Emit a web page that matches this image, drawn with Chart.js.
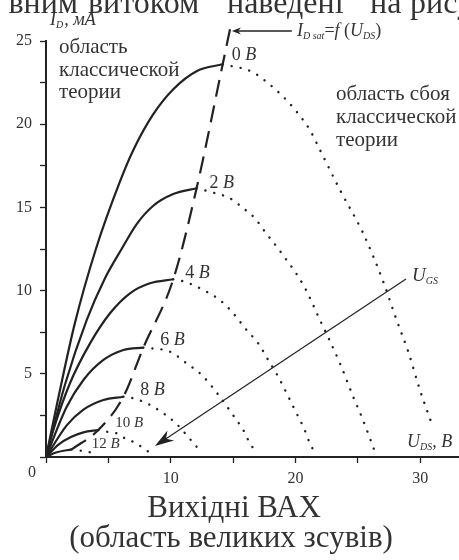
<!DOCTYPE html>
<html>
<head>
<meta charset="utf-8">
<script src="https://cdn.jsdelivr.net/npm/chart.js@4.4.1/dist/chart.umd.min.js"></script>
<style>
    html, body { margin: 0; padding: 0; background: #fff; }
    #wrap { width: 459px; height: 560px; }
</style>
</head>
<body>
<div id="wrap"><canvas id="ChartVax" width="459" height="560"></canvas></div>
<script>
// gate voltages of the family
var gateLabels = ['0', '2', '4', '6', '8', '10', '12'];

// solid part (classic theory), [U_DS, I_D]
var ohmic0 = [[0, 0], [1, 3.6], [2.3, 8.0], [4, 12.5], [5.9, 16.5], [7, 18.45], [8.6, 20.6], [10.2, 22.1], [12.1, 23.2], [14.16, 23.6]];
var ohmic2 = [[0, 0], [1.5, 4.3], [3.26, 8.23], [4.7, 10.7], [6.06, 12.5], [7.27, 14.0], [8.6, 15.1], [10.2, 15.8], [12.07, 16.15]];
var ohmic4 = [[0, 0], [0.6, 1.65], [1.92, 4.43], [3.53, 6.83], [5.13, 8.64], [6.73, 9.84], [8.33, 10.44], [10.2, 10.68]];
var ohmic6 = [[0, 0], [1.66, 3.02], [3.0, 4.63], [4.6, 5.83], [6.2, 6.43], [7.8, 6.57]];
var ohmic8 = [[0, 0], [1.66, 1.9], [3.0, 2.85], [4.6, 3.43], [6.2, 3.62]];
var ohmic10 = [[0, 0], [1.0, 0.75], [2.0, 1.2], [3.0, 1.48], [4.19, 1.62]];
var ohmic12 = [[0, 0], [0.8, 0.27], [2.06, 0.46]];

// dotted part (failure of classic theory)
var fall0 = [[14.16, 23.6], [16.48, 23.16], [17.81, 22.46], [19.01, 21.65], [20.09, 20.75], [21.15, 19.65], [21.96, 18.45], [23.56, 16.05], [25.42, 13.44], [27.03, 10.53], [28.1, 8.23], [29.03, 6.33], [29.97, 4.03], [30.9, 2.03]];
var fall2 = [[12.07, 16.15], [13.14, 15.94], [14.74, 15.55], [15.81, 14.95], [16.75, 14.34], [17.55, 13.54], [18.89, 12.24], [20.62, 10.34], [21.96, 8.23], [23.56, 5.63], [24.62, 3.62], [25.3, 2.42], [26.36, 0.32]];
var fall4 = [[10.2, 10.68], [11.14, 10.53], [12.6, 10.04], [13.94, 9.43], [15.0, 8.64], [16.08, 7.63], [17.01, 6.83], [17.81, 5.83], [18.61, 4.83], [19.29, 3.83], [19.95, 2.82], [20.62, 1.82], [21.15, 0.82], [21.55, 0.26]];
var fall6 = [[7.8, 6.57], [8.47, 6.53], [9.94, 6.33], [11.27, 5.63], [12.48, 4.93], [13.94, 3.62], [14.88, 2.63], [15.81, 1.62], [16.35, 0.82], [16.88, 0.26]];
var fall8 = [[6.2, 3.62], [6.59, 3.6], [8.07, 3.23], [9.4, 2.63], [10.47, 1.98], [11.54, 1.08], [12.48, 0.26]];
var fall10 = [[4.19, 1.62], [4.86, 1.52], [5.67, 1.42], [6.33, 1.12], [7.13, 0.86], [8.33, 0.26]];
var fall12 = [[2.06, 0.46], [2.46, 0.42], [3.26, 0.32], [4.06, 0.22]];

// I_D sat = f(U_DS)
var satCurve = [[2.06, 0.46], [4.19, 1.62], [6.2, 3.62], [7.8, 6.57], [10.2, 10.68], [12.07, 16.15], [14.16, 23.6], [14.8, 25.9]];

var xTickLabels = [10, 20, 30];
var yTickLabels = [5, 10, 15, 20, 25];

var serif = '"Liberation Serif", "Times New Roman", serif';
var ink = '#222';
var textInk = '#333';

function toPoints(arr) {
    return arr.map(function (p) { return { x: p[0], y: p[1] }; });
}

function each(arr, fn) {
    for (var i = 0; i < arr.length; i++) fn(i, arr[i]);
}

var ohmicList = [ohmic0, ohmic2, ohmic4, ohmic6, ohmic8, ohmic10, ohmic12];
var fallList = [fall0, fall2, fall4, fall6, fall8, fall10, fall12];

var mDataSets = [];
each(ohmicList, function (i, curve) {
    mDataSets.push({
        label: gateLabels[i] + ' B',
        data: toPoints(curve),
        showLine: true,
        borderColor: ink,
        borderWidth: 2.2,
        cubicInterpolationMode: 'monotone',
        pointRadius: 0,
        clip: false
    });
});
each(fallList, function (i, curve) {
    mDataSets.push({
        label: gateLabels[i] + ' B fall',
        data: toPoints(curve),
        showLine: true,
        borderColor: ink,
        borderWidth: 2.4,
        borderDash: [0.1, 9],
        borderCapStyle: 'round',
        cubicInterpolationMode: 'monotone',
        pointRadius: 0,
        clip: false
    });
});
mDataSets.push({
    label: 'sat',
    data: toPoints(satCurve),
    showLine: true,
    borderColor: ink,
    borderWidth: 2.2,
    borderDash: [17, 9],
    cubicInterpolationMode: 'monotone',
    pointRadius: 0,
    clip: false
});

// offsets of the "N B" labels from the saturation point, px
var labelOffsets = [[9, -4], [13, 0], [12, -1], [17, -3], [17, -2], [17, -3], [20, -1]];

function drawRich(c, parts, x, y) {
    for (var i = 0; i < parts.length; i++) {
        var p = parts[i];
        c.font = p[1] + ' ' + serif;
        c.fillText(p[0], x, y + (p[2] || 0));
        x += c.measureText(p[0]).width + (p[3] || 0);
    }
}

function drawArrow(c, x1, y1, x2, y2, len, w) {
    var a = Math.atan2(y2 - y1, x2 - x1);
    var ca = Math.cos(a), sa = Math.sin(a);
    c.beginPath();
    c.moveTo(x1, y1);
    c.lineTo(x2 - len * 0.7 * ca, y2 - len * 0.7 * sa);
    c.stroke();
    c.beginPath();
    c.moveTo(x2, y2);
    c.lineTo(x2 - len * ca + w * sa, y2 - len * sa - w * ca);
    c.lineTo(x2 - len * 0.7 * ca, y2 - len * 0.7 * sa);
    c.lineTo(x2 - len * ca - w * sa, y2 - len * sa + w * ca);
    c.closePath();
    c.fill();
}

var annotations = {
    id: 'annotations',
    afterDraw: function (chart) {
        var c = chart.ctx;
        var xs = chart.scales.x, ys = chart.scales.y;
        c.save();
        c.fillStyle = textInk;
        c.textAlign = 'left';
        c.textBaseline = 'alphabetic';

        // page text cut off above the figure
        c.font = '32px ' + serif;
        c.textAlign = 'right';
        c.fillText('вним', 78, 13);
        c.textAlign = 'left';
        c.fillText('витоком', 88, 13);
        c.fillText('наведені', 227, 13);
        c.fillText('на', 370, 13);
        c.fillText('рисунку', 410, 13);

        // axis titles
        drawRich(c, [['I', 'italic 18px'], ['D', 'italic 10px', 3, 1], [', мА', 'italic 18px']], 50, 25);
        drawRich(c, [['U', 'italic 18px'], ['DS', 'italic 10px', 3], [', ', 'italic 18px'], ['B', 'italic 18px']], 407, 447);

        // origin label
        c.font = '16px ' + serif;
        c.fillText('0', 28, 477);

        // regions
        c.font = '21px ' + serif;
        c.fillText('область', 59, 53);
        c.fillText('классической', 59, 76);
        c.fillText('теории', 59, 98);
        c.fillText('область сбоя', 336, 100);
        c.fillText('классической', 336, 123);
        c.fillText('теории', 336, 146);

        // gate voltage labels at each saturation point
        each(ohmicList, function (i, curve) {
            var pk = curve[curve.length - 1];
            var px = xs.getPixelForValue(pk[0]) + labelOffsets[i][0];
            var py = ys.getPixelForValue(pk[1]) + labelOffsets[i][1];
            var sz = i >= 5 ? '15px' : '18px';
            drawRich(c, [[gateLabels[i] + ' ', sz], ['B', 'italic ' + sz]], px, py);
        });

        // I_D sat = f(U_DS) with arrow
        drawRich(c, [['I', 'italic 18px'], ['D sat', 'italic 10px', 3], ['=', '18px'], ['f', 'italic 18px'], [' (', '18px'], ['U', 'italic 18px'], ['DS', 'italic 10px', 3], [')', '18px']], 297, 36);
        c.strokeStyle = ink;
        c.fillStyle = ink;
        c.lineWidth = 1.5;
        drawArrow(c, xs.getPixelForValue(19.7), ys.getPixelForValue(25.6), xs.getPixelForValue(14.9), ys.getPixelForValue(25.6), 9, 3.5);

        // U_GS growth arrow
        c.lineWidth = 1.2;
        drawArrow(c, xs.getPixelForValue(28.85), ys.getPixelForValue(10.7), xs.getPixelForValue(8.73), ys.getPixelForValue(0.66), 19, 6);
        c.fillStyle = textInk;
        drawRich(c, [['U', 'italic 19px'], ['GS', 'italic 10px', 3]], 412, 281);

        // caption
        c.textAlign = 'center';
        c.font = '31px ' + serif;
        c.fillText('Вихідні ВАХ', 234, 517);
        c.fillText('(область великих зсувів)', 231, 547);
        c.restore();
    }
};

var ctx = document.getElementById('ChartVax').getContext('2d');
var chart = new Chart(ctx, {
    type: 'scatter',
    data: { datasets: mDataSets },
    options: {
        responsive: false,
        animation: false,
        layout: { padding: { top: 41, right: 0, left: 0, bottom: 0 } },
        plugins: { legend: { display: false }, tooltip: { enabled: false }, title: { display: false } },
        scales: {
            x: {
                type: 'linear',
                min: 0,
                max: 33.1,
                afterFit: function (s) { s.height = 103; },
                border: { width: 2, color: ink },
                grid: { drawOnChartArea: false, tickLength: 6, tickWidth: 1.3, tickColor: ink },
                ticks: {
                    stepSize: 5,
                    includeBounds: false,
                    autoSkip: false,
                    maxRotation: 0,
                    padding: 6,
                    color: textInk,
                    font: { family: serif, size: 16 },
                    callback: function (v) { return xTickLabels.indexOf(v) >= 0 ? String(v) : ''; }
                }
            },
            y: {
                min: 0,
                max: 25,
                afterFit: function (s) { s.width = 46; },
                border: { width: 2, color: ink },
                grid: { drawOnChartArea: false, tickLength: 6, tickWidth: 1.3, tickColor: ink },
                ticks: {
                    stepSize: 2.5,
                    autoSkip: false,
                    padding: 8,
                    color: textInk,
                    font: { family: serif, size: 16 },
                    callback: function (v) { return yTickLabels.indexOf(v) >= 0 ? String(v) : ''; }
                }
            }
        }
    },
    plugins: [annotations]
});
</script>
</body>
</html>
